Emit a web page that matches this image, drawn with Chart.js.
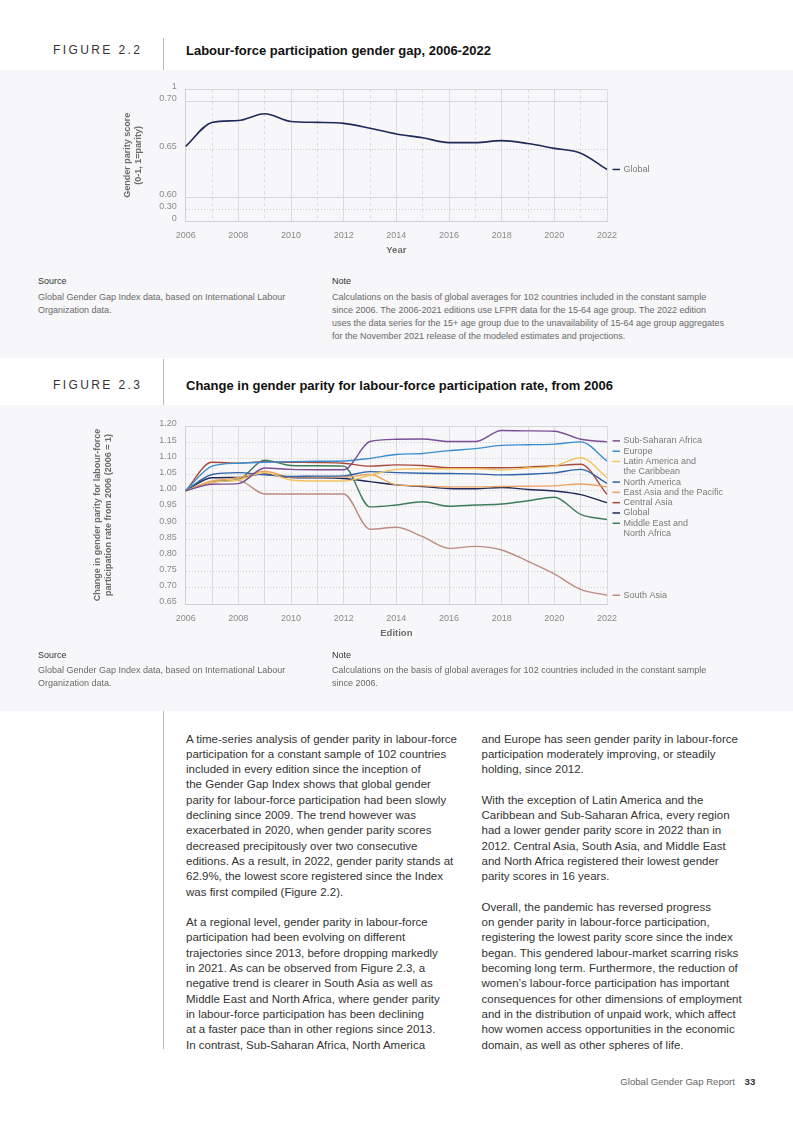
<!DOCTYPE html>
<html>
<head>
<meta charset="utf-8">
<script src="https://cdn.jsdelivr.net/npm/chart.js@4.4.1/dist/chart.umd.min.js"></script>
<style>
  body { margin:0; width:793px; height:1122px; position:relative; overflow:hidden; background:#fff;
         font-family:"Liberation Sans", Arial, sans-serif; color:#333; }
  .panel { position:absolute; left:0; width:793px; background:#f7f6f8; }
  .fig { position:absolute; left:53px; font-size:12px; line-height:14px; letter-spacing:2.4px; color:#333; }
  .ttl { position:absolute; left:186px; font-size:13px; line-height:15px; font-weight:bold; color:#111; }
  .vr { position:absolute; left:163px; width:1px; background:#b9b9b9; }
  .hd { position:absolute; font-size:9px; line-height:12.7px; color:#333; }
  .src { position:absolute; font-size:9px; line-height:12.7px; color:#6a6a6a; white-space:nowrap; }
  .body { position:absolute; top:731.6px; font-size:11.5px; line-height:15.3px; color:#333; white-space:nowrap; }
  .body p { margin:0 0 15.3px 0; }
  canvas { position:absolute; left:0; }
</style>
</head>
<body>

<div class="fig" style="top:43px">FIGURE 2.2</div>
<div class="vr" style="top:38px;height:32px"></div>
<div class="ttl" style="top:42.5px">Labour-force participation gender gap, 2006-2022</div>

<div class="panel" style="top:70px;height:288px"></div>
<canvas id="c1" width="793" height="200" style="top:70px;width:793px;height:200px"></canvas>
<div class="hd" style="left:38px;top:274.7px">Source</div>
<div class="src" style="left:38px;top:291.4px">Global Gender Gap Index data, based on International Labour<br>Organization data.</div>
<div class="hd" style="left:332px;top:274.7px">Note</div>
<div class="src" style="left:332px;top:291.4px">Calculations on the basis of global averages for 102 countries included in the constant sample<br>since 2006. The 2006-2021 editions use LFPR data for the 15-64 age group. The 2022 edition<br>uses the data series for the 15+ age group due to the unavailability of 15-64 age group aggregates<br>for the November 2021 release of the modeled estimates and projections.</div>

<div class="fig" style="top:378px">FIGURE 2.3</div>
<div class="vr" style="top:359px;height:46px"></div>
<div class="ttl" style="top:377.5px">Change in gender parity for labour-force participation rate, from 2006</div>

<div class="panel" style="top:405px;height:306px"></div>
<canvas id="c2" width="793" height="250" style="top:405px;width:793px;height:250px"></canvas>
<div class="hd" style="left:38px;top:649.4px">Source</div>
<div class="src" style="left:38px;top:664.4px">Global Gender Gap Index data, based on International Labour<br>Organization data.</div>
<div class="hd" style="left:332px;top:649.4px">Note</div>
<div class="src" style="left:332px;top:664.4px">Calculations on the basis of global averages for 102 countries included in the constant sample<br>since 2006.</div>

<div class="vr" style="top:711px;height:338px"></div>

<div class="body" style="left:186px">
<p>A time-series analysis of gender parity in labour-force<br>participation for a constant sample of 102 countries<br>included in every edition since the inception of<br>the Gender Gap Index shows that global gender<br>parity for labour-force participation had been slowly<br>declining since 2009. The trend however was<br>exacerbated in 2020, when gender parity scores<br>decreased precipitously over two consecutive<br>editions. As a result, in 2022, gender parity stands at<br>62.9%, the lowest score registered since the Index<br>was first compiled (Figure 2.2).</p>
<p>At a regional level, gender parity in labour-force<br>participation had been evolving on different<br>trajectories since 2013, before dropping markedly<br>in 2021. As can be observed from Figure 2.3, a<br>negative trend is clearer in South Asia as well as<br>Middle East and North Africa, where gender parity<br>in labour-force participation has been declining<br>at a faster pace than in other regions since 2013.<br>In contrast, Sub-Saharan Africa, North America</p>
</div>
<div class="body" style="left:481.5px">
<p>and Europe has seen gender parity in labour-force<br>participation moderately improving, or steadily<br>holding, since 2012.</p>
<p>With the exception of Latin America and the<br>Caribbean and Sub-Saharan Africa, every region<br>had a lower gender parity score in 2022 than in<br>2012. Central Asia, South Asia, and Middle East<br>and North Africa registered their lowest gender<br>parity scores in 16 years.</p>
<p>Overall, the pandemic has reversed progress<br>on gender parity in labour-force participation,<br>registering the lowest parity score since the index<br>began. This gendered labour-market scarring risks<br>becoming long term. Furthermore, the reduction of<br>women’s labour-force participation has important<br>consequences for other dimensions of employment<br>and in the distribution of unpaid work, which affect<br>how women access opportunities in the economic<br>domain, as well as other spheres of life.</p>
</div>

<div style="position:absolute;top:1075px;right:58px;font-size:9.6px;line-height:13px;color:#666">Global Gender Gap Report</div>
<div style="position:absolute;top:1075px;left:744.6px;font-size:9.6px;line-height:13px;font-weight:bold;color:#333">33</div>

<script>
Chart.defaults.font.family = '"Liberation Sans", Arial, sans-serif';
Chart.defaults.color = '#8a8a8a';

const years = ['2006','2007','2008','2009','2010','2011','2012','2013','2014','2015','2016','2017','2018','2019','2020','2021','2022'];

// figure 2.2
const globalScore = [0.653,0.678,0.680,0.687,0.679,0.678,0.677,0.672,0.666,0.662,0.657,0.657,0.659,0.656,0.651,0.646,0.629];
const scoreTicks = [0, 0.30, 0.60, 0.65, 0.70, 1];
const scoreTickText = ['0','0.30','0.60','0.65','0.70','1'];

// figure 2.3, 2006 = 1
const regionNames = ['Sub-Saharan Africa','Europe','Latin America and\nthe Caribbean','North America',
  'East Asia and the Pacific','Central Asia','Global','Middle East and\nNorth Africa','South Asia'];
const subSaharan  = [1.000,1.020,1.022,1.070,1.066,1.065,1.065,1.152,1.159,1.160,1.152,1.152,1.186,1.185,1.184,1.159,1.151];
const europe      = [1.000,1.076,1.085,1.088,1.090,1.091,1.092,1.100,1.112,1.115,1.124,1.130,1.140,1.142,1.144,1.151,1.092];
const latinAm     = [1.000,1.026,1.033,1.056,1.033,1.030,1.030,1.048,1.066,1.068,1.068,1.068,1.064,1.070,1.076,1.102,1.041];
const northAm     = [1.000,1.050,1.056,1.049,1.044,1.045,1.046,1.059,1.056,1.054,1.053,1.052,1.049,1.051,1.055,1.066,1.023];
const eastAsia    = [1.000,1.030,1.040,1.060,1.042,1.042,1.042,1.050,1.018,1.015,1.012,1.012,1.013,1.014,1.015,1.021,1.012];
const centralAsia = [1.000,1.088,1.085,1.090,1.088,1.087,1.085,1.076,1.080,1.078,1.071,1.071,1.071,1.073,1.077,1.082,0.989];
const globalIdx   = [1.000,1.040,1.041,1.052,1.041,1.040,1.038,1.028,1.018,1.013,1.007,1.006,1.010,1.004,0.999,0.988,0.963];
const mena        = [1.000,1.028,1.035,1.094,1.078,1.077,1.076,0.950,0.956,0.966,0.952,0.956,0.959,0.969,0.980,0.927,0.911];
const southAsia   = [1.000,1.025,1.032,0.990,0.990,0.990,0.990,0.881,0.887,0.858,0.822,0.828,0.817,0.782,0.743,0.695,0.677];
const regionData  = [subSaharan, europe, latinAm, northAm, eastAsia, centralAsia, globalIdx, mena, southAsia];
const regionColors = ['#7a4f98','#3a8fd0','#f3c35f','#2f63a8','#eda261','#a9493a','#1e2a57','#3e7d5c','#bf8b82'];

// broken y axis of fig 2.2: value stops and their share of the axis
const axisStops = [0, 0.30, 0.60, 0.70, 1];
const axisUnits = [0, 12, 24, 120, 132];
function toAxis(v) {
  for (let i = 1; i < axisStops.length; i++) {
    if (v <= axisStops[i]) {
      const f = (v - axisStops[i-1]) / (axisStops[i] - axisStops[i-1]);
      return axisUnits[i-1] + f * (axisUnits[i] - axisUnits[i-1]);
    }
  }
  return axisUnits[axisUnits.length - 1];
}

// labels at the end of each line, stacked where they would collide
const endLabels = {
  id: 'endLabels',
  afterDatasetsDraw(chart) {
    const {ctx, chartArea} = chart;
    const rowH = 10.3;
    const items = chart.data.datasets.map((ds, i) => {
      const pts = chart.getDatasetMeta(i).data;
      return {want: pts[pts.length - 1].y, lines: ds.label.split('\n'), color: ds.borderColor};
    }).sort((a, b) => a.want - b.want);

    function place(g) {
      let off = 0, sum = 0;
      g.items.forEach(it => { it.off = off; sum += it.want - off; off += it.lines.length * rowH; });
      g.h = off;
      g.top = sum / g.items.length;
    }
    const groups = [];
    items.forEach(it => {
      const g = {items: [it]};
      place(g);
      groups.push(g);
      while (groups.length > 1) {
        const a = groups[groups.length - 2], b = groups[groups.length - 1];
        if (a.top + a.h <= b.top) break;
        a.items = a.items.concat(b.items);
        groups.pop();
        place(a);
      }
    });

    const x0 = chartArea.right + 5.5;
    ctx.save();
    ctx.font = '9px "Liberation Sans", Arial, sans-serif';
    ctx.textBaseline = 'middle';
    groups.forEach(g => g.items.forEach(it => {
      const y = g.top + it.off;
      ctx.strokeStyle = it.color;
      ctx.lineWidth = 1.5;
      ctx.beginPath(); ctx.moveTo(x0, y); ctx.lineTo(x0 + 7.5, y); ctx.stroke();
      ctx.fillStyle = '#7a7a7a';
      it.lines.forEach((t, k) => ctx.fillText(t, x0 + 11, y + k * rowH));
    }));
    ctx.restore();
  }
};

function xAxis(title, oddDash) {
  return {
    type: 'category',
    afterFit: s => { s.height = 35.1; },
    grid: { color: '#dcdce0', drawTicks: false },
    border: { color: '#cfcfd4', dash: ctx => (oddDash && ctx.type === 'tick' && ctx.index % 2 === 1) ? [3, 3] : [] },
    ticks: { padding: 9, autoSkip: false, maxRotation: 0, font: {size: 9}, color: '#8a8a8a',
             callback: (v, i) => i % 2 === 0 ? years[i] : '' },
    title: { display: true, text: title, padding: 0, color: '#6b6b6b', font: {size: 9.5, weight: 'bold'} }
  };
}

// figure 2.2
new Chart(document.getElementById('c1'), {
  type: 'line',
  data: {
    labels: years,
    datasets: [{ label: 'Global', data: globalScore.map(toAxis), borderColor: '#1e2a57', borderWidth: 1.6,
                 pointRadius: 0, cubicInterpolationMode: 'monotone' }]
  },
  plugins: [endLabels],
  options: {
    responsive: false, animation: false,
    layout: { padding: { top: 19.3, bottom: 13.6, left: 122, right: 186 } },
    plugins: { legend: { display: false }, tooltip: { enabled: false } },
    scales: {
      x: xAxis('Year', true),
      y: {
        min: 0, max: 132,
        afterFit: s => { s.width = 63.7; },
        afterBuildTicks: s => { s.ticks = scoreTicks.map(v => ({value: toAxis(v)})); },
        grid: { color: ctx => (ctx.index === 1 || ctx.index === 3) ? '#c9c9cf' : '#d6d6db', drawTicks: false },
        border: { color: '#cfcfd4', dash: ctx => (ctx.type === 'tick' && (ctx.index === 1 || ctx.index === 3)) ? [1, 2] : [] },
        ticks: { padding: 9, labelOffset: -2.5, font: {size: 9}, color: '#8a8a8a', callback: (v, i) => scoreTickText[i] },
        title: { display: true, text: ['Gender parity score', '(0-1, 1=parity)'], padding: 0, color: '#6b6b6b',
                 font: {size: 9, weight: 'bold', lineHeight: 1.2} }
      }
    }
  }
});

// figure 2.3
new Chart(document.getElementById('c2'), {
  type: 'line',
  data: {
    labels: years,
    datasets: regionNames.map((name, i) => ({
      label: name, data: regionData[i], borderColor: regionColors[i], borderWidth: 1.4,
      pointRadius: 0, cubicInterpolationMode: 'monotone'
    }))
  },
  plugins: [endLabels],
  options: {
    responsive: false, animation: false,
    layout: { padding: { top: 21, bottom: 15.9, left: 92.5, right: 186 } },
    plugins: { legend: { display: false }, tooltip: { enabled: false } },
    scales: {
      x: xAxis('Edition', false),
      y: {
        min: 0.65, max: 1.20,
        afterFit: s => { s.width = 93.2; },
        grid: { color: ctx => (ctx.tick && ctx.tick.value > 1.199) ? '#d6d6db' : '#cbcbd1', drawTicks: false },
        border: { color: '#cfcfd4', dash: ctx => (ctx.type === 'tick' && ctx.tick.value < 1.199) ? [1, 2] : [] },
        ticks: { stepSize: 0.05, padding: 9, labelOffset: -2, font: {size: 9}, color: '#8a8a8a',
                 callback: v => v.toFixed(2) },
        title: { display: true, text: ['Change in gender parity for labour-force', 'participation rate from 2006 (2006 = 1)'],
                 padding: 0, color: '#6b6b6b', font: {size: 9, weight: 'bold', lineHeight: 1.2} }
      }
    }
  }
});
</script>
</body>
</html>
